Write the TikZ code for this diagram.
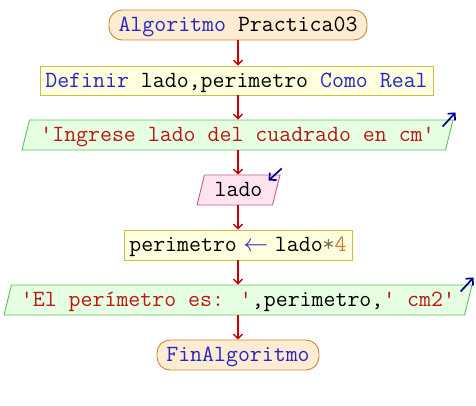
\documentclass[tikz,border=0pt]{standalone}
\usepackage{fontspec}
\usetikzlibrary{shapes.geometric,arrows.meta}

% palette
\definecolor{kwblue}{HTML}{2626C4}
\definecolor{strred}{HTML}{B81818}
\definecolor{numbrown}{HTML}{C08440}
\definecolor{opgray}{HTML}{7C6C58}
\definecolor{termfill}{HTML}{FDEBD2}
\definecolor{termborder}{HTML}{C68A34}
\definecolor{procfill}{HTML}{FFFFE0}
\definecolor{procborder}{HTML}{C8C040}
\definecolor{outfill}{HTML}{E6FFE2}
\definecolor{outborder}{HTML}{5CC05C}
\definecolor{infill}{HTML}{FFE4F0}
\definecolor{inborder}{HTML}{C25C8E}
\definecolor{flowred}{HTML}{CC0000}
\definecolor{iconblue}{HTML}{00008C}

\newcommand{\kwd}[1]{\textcolor{kwblue}{#1}}
\newcommand{\strg}[1]{\textcolor{strred}{#1}}
\newcommand{\assignarrow}{\makebox[38pt]{\textcolor{kwblue}{$\leftarrow$}}}

\begin{document}
\begin{tikzpicture}[x=1pt,y=-1pt,
  base/.style={font=\ttfamily\fontsize{23.2pt}{25pt}\selectfont,
    line width=0.9pt, inner sep=0pt, minimum height=30pt,
    text height=17pt, text depth=3.5pt},
  term/.style={base, rectangle, rounded corners=13pt,
    draw=termborder, fill=termfill},
  proc/.style={base, rectangle, draw=procborder, fill=procfill},
  slanted/.style={base, trapezium, trapezium left angle=70,
    trapezium right angle=110, trapezium stretches body},
  outp/.style={slanted, draw=outborder, fill=outfill},
  inp/.style={slanted, draw=inborder, fill=infill},
  flow/.style={draw=flowred, line width=1.3pt,
    -{Straight Barb[length=4.5pt,width=9pt]}},
  ioicon/.style={draw=iconblue, line width=1.7pt,
    -{Straight Barb[length=5pt,width=10pt]}}]

\path[use as bounding box] (0,0) rectangle (476,405);

\node[term, minimum width=258pt] (start) at (238,25) {\kwd{Algoritmo} Practica03};
\node[proc, minimum width=393pt, minimum height=29pt] (def) at (236.5,80.5)
  {\kwd{Definir} lado,perimetro \kwd{Como} \kwd{Real}};
\node[outp, minimum width=431pt] (ask) at (237.5,135)
  {\strg{'Ingrese lado del cuadrado en cm'}};
\node[inp, minimum width=83pt] (read) at (238.5,190) {lado};
\node[proc, minimum width=228pt] (calc) at (238,245)
  {perimetro\assignarrow lado\textcolor{opgray}{*}\textcolor{numbrown}{4}};
\node[outp, minimum width=468pt] (show) at (238,300)
  {\strg{'El perímetro es: '},perimetro,\strg{' cm2'}};
\node[term, minimum width=162pt] (stop) at (238,355) {\kwd{FinAlgoritmo}};

% flow connectors
\draw[flow] (238,0 |- start.south) -- (238,0 |- def.north);
\draw[flow] (238,0 |- def.south) -- (238,0 |- ask.north);
\draw[flow] (238,0 |- ask.south) -- (238,0 |- read.north);
\draw[flow] (238,0 |- read.south) -- (238,0 |- calc.north);
\draw[flow] (238,0 |- calc.south) -- (238,0 |- show.north);
\draw[flow] (238,0 |- show.south) -- (238,0 |- stop.north);

% output / input markers
\draw[ioicon] ([shift={(-11,7)}]ask.top right corner) -- ([shift={(2,-7)}]ask.top right corner);
\draw[ioicon] ([shift={(1,-6)}]read.top right corner) -- ([shift={(-12,6)}]read.top right corner);
\draw[ioicon] ([shift={(-12,7)}]show.top right corner) -- ([shift={(1,-7)}]show.top right corner);
\end{tikzpicture}
\end{document}
